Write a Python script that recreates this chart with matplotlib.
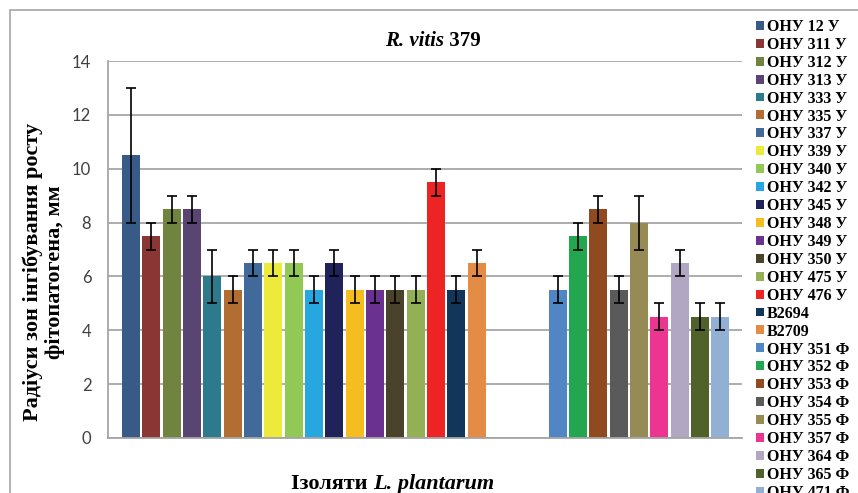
import numpy as np
import matplotlib
matplotlib.use("Agg")
import matplotlib.pyplot as plt
from matplotlib.patches import Patch, Rectangle

# isolates, group 1 (У)
names_u = ["ОНУ 12 У", "ОНУ 311 У", "ОНУ 312 У", "ОНУ 313 У", "ОНУ 333 У",
           "ОНУ 335 У", "ОНУ 337 У", "ОНУ 339 У", "ОНУ 340 У", "ОНУ 342 У",
           "ОНУ 345 У", "ОНУ 348 У", "ОНУ 349 У", "ОНУ 350 У", "ОНУ 475 У",
           "ОНУ 476 У", "B2694", "B2709"]
vals_u = [10.5, 7.5, 8.5, 8.5, 6.0, 5.5, 6.5, 6.5, 6.5, 5.5,
          6.5, 5.5, 5.5, 5.5, 5.5, 9.5, 5.5, 6.5]
err_u = [2.5, 0.5, 0.5, 0.5, 1.0, 0.5, 0.5, 0.5, 0.5, 0.5,
         0.5, 0.5, 0.5, 0.5, 0.5, 0.5, 0.5, 0.5]
colors_u = ["#375a86", "#8a3634", "#70843f", "#5a4572", "#2c7a8c",
            "#b26d33", "#416a9b", "#eeea3b", "#92c955", "#27a7df",
            "#1f235a", "#f5bd1f", "#6a3190", "#4a422a", "#94b055",
            "#ee2324", "#12365a", "#e48c45"]

# isolates, group 2 (Ф)
names_f = ["ОНУ 351 Ф", "ОНУ 352 Ф", "ОНУ 353 Ф", "ОНУ 354 Ф", "ОНУ 355 Ф",
           "ОНУ 357 Ф", "ОНУ 364 Ф", "ОНУ 365 Ф", "ОНУ 471 Ф"]
vals_f = [5.5, 7.5, 8.5, 5.5, 8.0, 4.5, 6.5, 4.5, 4.5]
err_f = [0.5, 0.5, 0.5, 0.5, 1.0, 0.5, 0.5, 0.5, 0.5]
colors_f = ["#5086c4", "#22a750", "#8f4a20", "#5a5a5a", "#968a55",
            "#ec3591", "#b2a7c2", "#50622a", "#91b0d3"]

yticks = [0, 2, 4, 6, 8, 10, 12, 14]

W, H = 858, 493
fig = plt.figure(figsize=(W / 100, H / 100), dpi=100)
fig.patch.set_facecolor("white")

# outer chart frame (runs off the right and bottom edges)
fig.patches.append(Rectangle((10 / W, -0.2), 1.2, 1.2 - 10 / H,
                             transform=fig.transFigure, fill=False,
                             edgecolor="#a6a6a6", lw=1.2, zorder=0))

ax = fig.add_axes([108 / W, 1 - 438 / H, (742 - 108) / W, (438 - 61) / H])
ax.set_facecolor("none")

bw = 0.885
x_u = np.arange(len(vals_u))
x_f = np.arange(len(vals_f)) + len(vals_u) + 3
handles = []
for x, v, e, c, n in zip(np.r_[x_u, x_f], vals_u + vals_f, err_u + err_f,
                         colors_u + colors_f, names_u + names_f):
    ax.bar(x, v, width=bw, color=c, zorder=2)
    ax.errorbar(x, v, yerr=e, fmt="none", ecolor="black", elinewidth=1.2,
                capsize=3.5, capthick=1.2, zorder=3)
    handles.append(Patch(facecolor=c, label=n))

ax.set_xlim(-1.13, 30.06)
ax.set_ylim(0, 14)
ax.set_yticks(yticks)
ax.set_xticks([])
ax.yaxis.grid(True, color="#a6a6a6", lw=1.3, zorder=0)
ax.tick_params(axis="y", length=0, pad=12, labelsize=12, labelcolor="#404040")
for lab in ax.get_yticklabels():
    lab.set_fontfamily("Lato")
for s in ["top", "right"]:
    ax.spines[s].set_visible(False)
for s in ["left", "bottom"]:
    ax.spines[s].set_color("#a6a6a6")
    ax.spines[s].set_linewidth(1.3)

serif = "Liberation Serif"

# title: italic species name followed by strain number
t1 = fig.text(385 / W, 1 - 46 / H, "R. vitis", fontfamily=serif,
              fontweight="bold", fontstyle="italic", fontsize=15,
              ha="left", va="baseline")
fig.canvas.draw()
ax.annotate(" 379", xy=(1, 0), xycoords=t1, fontfamily=serif,
            fontweight="bold", fontsize=15, ha="left", va="bottom")

# axis labels
fig.text(44 / W, 1 - 272 / H, "Радіуси зон інгібування росту\nфітопатогена, мм",
         fontfamily=serif, fontweight="bold", fontsize=16, rotation=90,
         ha="center", va="center", linespacing=1.15, multialignment="center")
x1 = fig.text(291 / W, 1 - 489 / H, "Ізоляти ", fontfamily=serif,
              fontweight="bold", fontsize=16, ha="left", va="baseline")
ax.annotate("L. plantarum", xy=(1, 0), xycoords=x1, fontfamily=serif,
            fontweight="bold", fontstyle="italic", fontsize=16,
            ha="left", va="bottom")

fig.legend(handles=handles, loc="upper left",
           bbox_to_anchor=(756 / W, 1 - 19 / H), frameon=False,
           prop={"family": serif, "weight": "bold", "size": 11.5},
           handlelength=0.48, handleheight=0.48, handletextpad=0.18,
           labelspacing=0.12, borderpad=0, borderaxespad=0)

fig.savefig("out.png", dpi=100)
